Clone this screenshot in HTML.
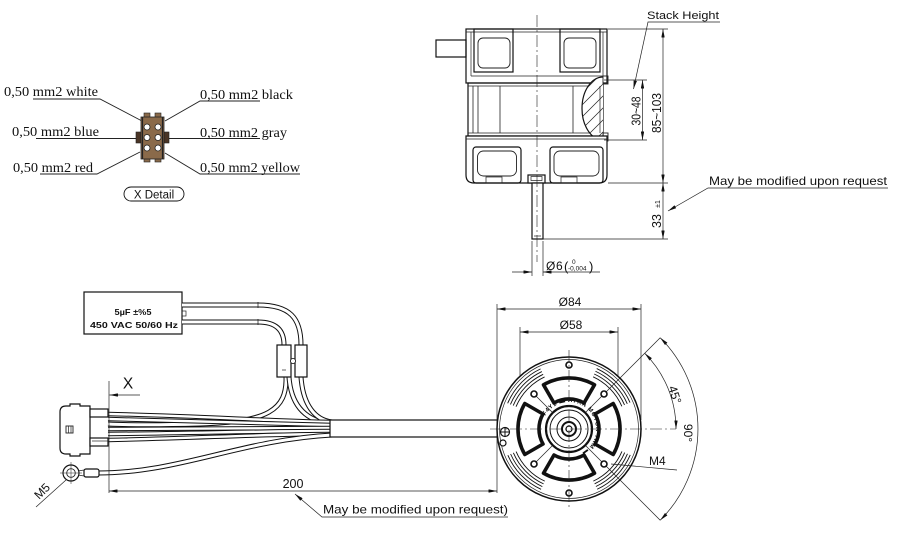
<!DOCTYPE html>
<html><head><meta charset="utf-8"><style>
html,body{margin:0;padding:0;background:#fff;}
svg{display:block;}
.o{fill:none;stroke:#111;stroke-width:1.2;}
.t{fill:none;stroke:#222;stroke-width:0.7;}
.cl{fill:none;stroke:#222;stroke-width:0.6;stroke-dasharray:12 3 2 3;}
.sans{font-family:"Liberation Sans",sans-serif;fill:#111;}
.serif{font-family:"Liberation Serif",serif;fill:#111;}
</style></head><body>
<svg width="900" height="538" viewBox="0 0 900 538" xmlns="http://www.w3.org/2000/svg">
<defs>
<marker id="ar" viewBox="0 0 10 4" refX="10" refY="2" markerWidth="9" markerHeight="3.4" markerUnits="userSpaceOnUse" orient="auto-start-reverse"><path d="M0,0 L10,2 L0,4 z" fill="#111"/></marker>
<clipPath id="bulge"><path d="M603,77 A21,31.5 0 0 0 603,140 Z"/></clipPath>
<path id="hubring" d="M542,429 A27,27 0 1 1 596,429 A27,27 0 1 1 542,429"/>
</defs>

<!-- ============ TOP-LEFT CONNECTOR DETAIL ============ -->
<g class="t" style="stroke-width:0.9">
<polyline points="33,99 100,99 142,121"/>
<polyline points="260,101 200,101 165,121"/>
<polyline points="36,138.5 140,138.5"/>
<polyline points="167,138.5 260,138.5"/>
<polyline points="40,174 97,174 140,152"/>
<polyline points="300,174 200,174 165,153"/>
</g>
<g>
<rect x="136" y="132" width="5" height="11" fill="#4a3526" stroke="#222" stroke-width="0.6"/>
<rect x="164" y="132" width="5" height="11" fill="#4a3526" stroke="#222" stroke-width="0.6"/>
<rect x="144" y="113" width="6" height="5" fill="#8a6a4a" stroke="#222" stroke-width="0.6"/>
<rect x="155" y="113" width="6" height="5" fill="#8a6a4a" stroke="#222" stroke-width="0.6"/>
<rect x="144" y="158" width="6" height="4" fill="#8a6a4a" stroke="#222" stroke-width="0.6"/>
<rect x="155" y="158" width="6" height="4" fill="#8a6a4a" stroke="#222" stroke-width="0.6"/>
<rect x="141" y="117" width="23" height="42" fill="#8a6a4a" stroke="#222" stroke-width="0.8"/>
<line x1="142.5" y1="117" x2="142.5" y2="159" stroke="#222" stroke-width="1.2"/>
<line x1="162.5" y1="117" x2="162.5" y2="159" stroke="#222" stroke-width="1.2"/>
<g fill="#fff" stroke="#222" stroke-width="0.8">
<circle cx="147" cy="127" r="3"/><circle cx="158" cy="127" r="3"/>
<circle cx="147" cy="137.5" r="3"/><circle cx="158" cy="137.5" r="3"/>
<circle cx="147" cy="148" r="3"/><circle cx="158" cy="148" r="3"/>
</g>
</g>
<g class="serif" font-size="14">
<text x="4" y="96" textLength="94" lengthAdjust="spacingAndGlyphs">0,50 mm2 white</text>
<text x="200" y="99" textLength="93" lengthAdjust="spacingAndGlyphs">0,50 mm2 black</text>
<text x="12" y="136" textLength="87" lengthAdjust="spacingAndGlyphs">0,50 mm2 blue</text>
<text x="200" y="137" textLength="87" lengthAdjust="spacingAndGlyphs">0,50 mm2 gray</text>
<text x="13" y="172" textLength="80" lengthAdjust="spacingAndGlyphs">0,50 mm2 red</text>
<text x="200" y="172" textLength="100" lengthAdjust="spacingAndGlyphs">0,50 mm2 yellow</text>
</g>
<rect x="124" y="187" width="60" height="14" rx="7" fill="none" stroke="#111" stroke-width="0.9"/>
<text class="sans" x="154" y="198.5" font-size="11.5" text-anchor="middle">X Detail</text>

<!-- ============ TOP SIDE VIEW ============ -->
<rect x="436" y="40" width="30" height="17" class="o"/>
<!-- top section -->
<rect x="466" y="29" width="141" height="54" class="o"/>
<line x1="466" y1="32" x2="607" y2="32" class="t"/>
<line x1="471" y1="32" x2="471" y2="76" class="t"/>
<line x1="603" y1="32" x2="603" y2="76" class="t"/>
<line x1="471" y1="76" x2="603" y2="76" class="t"/>
<rect x="474" y="29" width="39" height="43" class="o"/>
<rect x="478" y="38" width="32" height="30" rx="5" class="t" style="stroke-width:0.9"/>
<rect x="560" y="29" width="40" height="43" class="o"/>
<rect x="564" y="38" width="32" height="30" rx="5" class="t" style="stroke-width:0.9"/>
<!-- middle section -->
<rect x="468" y="83" width="135" height="53" class="o"/>
<g class="t" style="stroke-width:0.8">
<line x1="468" y1="86" x2="600" y2="86"/>
<line x1="468" y1="133" x2="600" y2="133"/>
<line x1="473" y1="86" x2="473" y2="133"/>
<line x1="478" y1="86" x2="478" y2="133"/>
<line x1="500" y1="86" x2="500" y2="133"/>
<line x1="573" y1="86" x2="573" y2="133"/>
</g>
<path d="M603,77 A21,31.5 0 0 0 603,140" class="o" fill="#fff" style="fill:#fff"/>
<g clip-path="url(#bulge)" class="t">
<line x1="575" y1="100" x2="605" y2="70"/>
<line x1="575" y1="112" x2="605" y2="82"/>
<line x1="575" y1="124" x2="605" y2="94"/>
<line x1="575" y1="136" x2="605" y2="106"/>
<line x1="575" y1="148" x2="605" y2="118"/>
<line x1="575" y1="160" x2="605" y2="130"/>
</g>
<line x1="600" y1="86" x2="600" y2="133" class="t"/>
<rect x="603" y="76" width="5" height="8" class="t" style="stroke-width:0.9"/>
<rect x="603" y="133" width="5" height="8" class="t" style="stroke-width:0.9"/>
<!-- bottom section -->
<path d="M466,136 H607 V175 Q607,183 599,183 H474 Q466,183 466,175 Z" class="o" style="fill:#fff"/>
<line x1="466" y1="139" x2="607" y2="139" class="t"/>
<rect x="473" y="147" width="48" height="36" rx="3" class="o"/>
<rect x="477.5" y="151" width="39" height="25" rx="6" class="t" style="stroke-width:0.9"/>
<rect x="550" y="147" width="53" height="36" rx="3" class="o"/>
<rect x="554" y="151" width="45" height="25" rx="6" class="t" style="stroke-width:0.9"/>
<rect x="486" y="177" width="16" height="6" class="t"/>
<rect x="561" y="177" width="16" height="6" class="t"/>
<rect x="528" y="175" width="17" height="8" class="o" style="fill:#fff"/>
<rect x="531" y="176.5" width="11" height="4" class="t"/>
<!-- shaft -->
<rect x="532" y="183" width="11" height="56" class="o" style="fill:#fff"/>
<line x1="534" y1="236" x2="541" y2="236" class="t"/>
<line x1="537" y1="15" x2="537" y2="262" class="cl"/>

<!-- top view dimensions -->
<g class="t">
<line x1="608" y1="29" x2="668" y2="29"/>
<line x1="608" y1="183" x2="668" y2="183"/>
<line x1="543" y1="239" x2="668" y2="239"/>
<line x1="604" y1="80" x2="647" y2="80"/>
<line x1="604" y1="140" x2="647" y2="140"/>
<line x1="663" y1="29" x2="663" y2="183" marker-start="url(#ar)" marker-end="url(#ar)"/>
<line x1="663" y1="183" x2="663" y2="239" marker-start="url(#ar)" marker-end="url(#ar)"/>
<line x1="642.5" y1="80" x2="642.5" y2="140" marker-start="url(#ar)" marker-end="url(#ar)"/>
<polyline points="720,22 648,22 633.5,89" marker-end="url(#ar)"/>
<polyline points="888,188 708,188 668,211" marker-end="url(#ar)"/>
<line x1="532" y1="241" x2="532" y2="276"/>
<line x1="543" y1="241" x2="543" y2="276"/>
<line x1="512" y1="272" x2="532" y2="272" marker-end="url(#ar)"/>
<line x1="600" y1="272" x2="543" y2="272" marker-end="url(#ar)"/>
</g>
<g class="sans">
<text x="647" y="19" font-size="11" textLength="72" lengthAdjust="spacingAndGlyphs">Stack Height</text>
<text x="709" y="185" font-size="12" textLength="178" lengthAdjust="spacingAndGlyphs">May be modified upon request</text>
<text transform="translate(661,113) rotate(-90)" font-size="12.5" text-anchor="middle" textLength="40" lengthAdjust="spacingAndGlyphs">85~103</text>
<text transform="translate(640.5,111) rotate(-90)" font-size="12.5" text-anchor="middle" textLength="29" lengthAdjust="spacingAndGlyphs">30~48</text>
<text transform="translate(661,221) rotate(-90)" font-size="12.5" text-anchor="middle">33</text>
<text transform="translate(660,204) rotate(-90)" font-size="7" text-anchor="middle">±1</text>
<text x="546" y="270" font-size="12">Ø</text>
<text x="556" y="270" font-size="12">6</text>
<text x="564" y="271" font-size="13">(</text>
<text x="572" y="264" font-size="6.5">0</text>
<text x="568" y="270.5" font-size="6.5">-0,004</text>
<text x="589" y="271" font-size="13">)</text>
</g>

<!-- ============ LOWER-LEFT HARNESS ============ -->
<!-- capacitor -->
<rect x="84" y="292" width="98" height="42" class="o" style="fill:#fff"/>
<rect x="182" y="311" width="4" height="5" class="t"/>
<text x="133" y="315" font-size="8.5" font-weight="bold" text-anchor="middle" class="sans" textLength="37" lengthAdjust="spacingAndGlyphs">5µF ±%5</text>
<text x="134" y="328" font-size="8.5" font-weight="bold" text-anchor="middle" class="sans" textLength="88" lengthAdjust="spacingAndGlyphs">450 VAC 50/60 Hz</text>
<!-- wires from capacitor -->
<g fill="none" stroke-linecap="butt">
<path d="M182,305 H258 C290,305 301,318 301,345" stroke="#111" stroke-width="5"/>
<path d="M182,305 H258 C290,305 301,318 301,345" stroke="#fff" stroke-width="3"/>
<path d="M182,322 H258 C276,322 284,330 284,345" stroke="#111" stroke-width="5"/>
<path d="M182,322 H258 C276,322 284,330 284,345" stroke="#fff" stroke-width="3"/>
<line x1="258" y1="302" x2="258" y2="308" stroke="#111" stroke-width="0.7"/>
<line x1="258" y1="319" x2="258" y2="325" stroke="#111" stroke-width="0.7"/>
<!-- below sleeves -->
<path d="M286,377 C287,410 268,422 200,424 C160,425 130,425 108,424" stroke="#111" stroke-width="5"/>
<path d="M286,377 C287,410 268,422 200,424 C160,425 130,425 108,424" stroke="#fff" stroke-width="3"/>
<path d="M289,377 C291,405 305,421 332,424" stroke="#111" stroke-width="5"/>
<path d="M289,377 C291,405 305,421 332,424" stroke="#fff" stroke-width="3"/>
<path d="M301,377 C303,405 315,420 332,422" stroke="#111" stroke-width="5"/>
<path d="M301,377 C303,405 315,420 332,422" stroke="#fff" stroke-width="3"/>
<!-- bundle -->
<g>
<path d="M108,414 C200,416 270,421 332,422" stroke="#111" stroke-width="4.4"/>
<path d="M108,414 C200,416 270,421 332,422" stroke="#fff" stroke-width="2.4"/>
<path d="M108,419 C200,421 270,424 332,425" stroke="#111" stroke-width="4.4"/>
<path d="M108,419 C200,421 270,424 332,425" stroke="#fff" stroke-width="2.4"/>
<path d="M108,429 C200,429 270,428 332,428" stroke="#111" stroke-width="4.4"/>
<path d="M108,429 C200,429 270,428 332,428" stroke="#fff" stroke-width="2.4"/>
<path d="M108,434 C200,433 270,431 332,431" stroke="#111" stroke-width="4.4"/>
<path d="M108,434 C200,433 270,431 332,431" stroke="#fff" stroke-width="2.4"/>
<path d="M108,440 C200,438 270,434 332,434" stroke="#111" stroke-width="4.4"/>
<path d="M108,440 C200,438 270,434 332,434" stroke="#fff" stroke-width="2.4"/>
</g>
<!-- ground wire -->
<path d="M98,473 C180,473 240,440 332,435" stroke="#111" stroke-width="5"/>
<path d="M98,473 C180,473 240,440 332,435" stroke="#fff" stroke-width="3"/>
</g>
<!-- sleeves -->
<rect x="277" y="345" width="14" height="32" class="o" style="fill:#fff"/>
<rect x="295" y="345" width="12" height="32" class="o" style="fill:#fff"/>
<line x1="282" y1="370" x2="286" y2="370" class="t"/>
<circle cx="293" cy="361" r="2.6" class="t" style="fill:#fff;stroke-width:0.9"/>
<!-- cable jacket -->
<rect x="330" y="420" width="168" height="17" class="o" style="fill:#fff"/>
<!-- connector -->
<path d="M66,406 H70 V404 H80 V406 H90 V454 H80 V456 H70 V454 H66 Q60,454 60,448 V412 Q60,406 66,406 Z" class="o" style="fill:#fff"/>
<rect x="90" y="409" width="18" height="8" class="o" style="fill:#fff"/>
<rect x="90" y="438" width="18" height="8" class="o" style="fill:#fff"/>
<line x1="92" y1="441" x2="108" y2="441" class="t"/>
<rect x="66" y="426" width="7" height="7" class="t" style="stroke-width:0.9"/>
<line x1="68.5" y1="426" x2="68.5" y2="433" class="t"/>
<line x1="71" y1="426" x2="71" y2="433" class="t"/>
<!-- ring terminal -->
<rect x="84" y="469" width="15" height="8" rx="2" class="o" style="fill:#fff"/>
<line x1="78" y1="471" x2="84" y2="470" class="t"/>
<line x1="78" y1="475" x2="84" y2="476" class="t"/>
<circle cx="71" cy="473" r="8" class="o" style="fill:#fff"/>
<circle cx="71" cy="473" r="4.3" class="t" style="stroke-width:0.9"/>
<line x1="60" y1="473" x2="82" y2="473" class="t" style="stroke-width:0.5"/>
<line x1="71" y1="462" x2="71" y2="484" class="t" style="stroke-width:0.5"/>
<line x1="66" y1="480" x2="36" y2="507" class="t"/>
<text class="sans" transform="translate(45,494) rotate(-45)" font-size="12" text-anchor="middle">M5</text>
<!-- X marker -->
<line x1="109" y1="381" x2="109" y2="493" class="t"/>
<line x1="140" y1="395" x2="109.5" y2="395" class="t" marker-end="url(#ar)"/>
<text class="sans" x="128" y="388.5" font-size="15.5" text-anchor="middle">X</text>
<!-- 200 dimension -->
<line x1="109" y1="491" x2="497" y2="491" class="t" marker-start="url(#ar)" marker-end="url(#ar)"/>
<text class="sans" x="293" y="488" font-size="12.5" text-anchor="middle">200</text>
<polyline points="508,517 322,517 295,494" class="t" marker-end="url(#ar)"/>
<text class="sans" x="323" y="513.5" font-size="12" textLength="185" lengthAdjust="spacingAndGlyphs">May be modified upon request)</text>

<!-- ============ FRONT VIEW ============ -->
<g class="t">
<line x1="497" y1="304" x2="497" y2="493"/>
<line x1="641" y1="304" x2="641" y2="420"/>
<line x1="497" y1="309" x2="641" y2="309" marker-start="url(#ar)" marker-end="url(#ar)"/>
<line x1="520" y1="327" x2="520" y2="382"/>
<line x1="618" y1="327" x2="618" y2="382"/>
<line x1="520" y1="332" x2="618" y2="332" marker-start="url(#ar)" marker-end="url(#ar)"/>
</g>
<text class="sans" x="570" y="306" font-size="12" text-anchor="middle">Ø84</text>
<text class="sans" x="571" y="329" font-size="12" text-anchor="middle">Ø58</text>

<circle cx="569" cy="429" r="72" fill="#fff" stroke="#111" stroke-width="1.5"/>
<circle cx="569" cy="429" r="69.5" class="t"/>
<!-- slot arc groups -->
<g fill="none" stroke="#111" stroke-width="0.9">
<circle cx="569" cy="429" r="57.5" pathLength="360" stroke-dasharray="0 23 42 50 42 46 42 50 42 23"/>
<circle cx="569" cy="429" r="60.5" pathLength="360" stroke-dasharray="0 23 42 50 42 46 42 50 42 23"/>
<circle cx="569" cy="429" r="63.5" pathLength="360" stroke-dasharray="0 23 42 50 42 46 42 50 42 23"/>
<circle cx="569" cy="429" r="66.5" pathLength="360" stroke-dasharray="0 23 42 50 42 46 42 50 42 23"/>
</g>
<!-- diagonal thin lines -->
<g class="t">
<line x1="534" y1="394" x2="604" y2="464"/>
<line x1="604" y1="394" x2="534" y2="464"/>
<line x1="604" y1="394" x2="660.2" y2="337.8"/>
<line x1="604" y1="464" x2="660.2" y2="520.2"/>
<line x1="611" y1="464" x2="677" y2="470"/>
</g>
<!-- windows -->
<g fill="none" stroke="#111" stroke-width="3.6" stroke-linejoin="round">
<path d="M543.5,384.8 A51,51 0 0 1 594.5,384.8 L584,403 A30,30 0 0 0 554,403 Z"/>
<path d="M613.2,403.5 A51,51 0 0 1 613.2,454.5 L595,444 A30,30 0 0 0 595,414 Z"/>
<path d="M594.5,473.2 A51,51 0 0 1 543.5,473.2 L554,455 A30,30 0 0 0 584,455 Z"/>
<path d="M524.8,454.5 A51,51 0 0 1 524.8,403.5 L543,414 A30,30 0 0 0 543,444 Z"/>
</g>
<!-- holes -->
<g fill="#fff" stroke="#111" stroke-width="1.6">
<circle cx="569" cy="365" r="3"/><circle cx="569" cy="493" r="3"/>
<circle cx="534" cy="394" r="3"/><circle cx="604" cy="394" r="3"/>
<circle cx="534" cy="464" r="3"/><circle cx="604" cy="464" r="3"/>
</g>
<!-- hub -->
<circle cx="569" cy="429" r="23" fill="#fff" stroke="#111" stroke-width="2.2"/>
<text font-family="Liberation Sans,sans-serif" font-size="6" font-weight="bold" fill="#111" letter-spacing="0.6"><textPath href="#hubring" startOffset="8%">F4Y1 ▬ AYKA MOTOR TRM ▬</textPath></text>
<circle cx="569" cy="429" r="19" fill="none" stroke="#111" stroke-width="1"/>
<circle cx="569" cy="429" r="12" fill="none" stroke="#111" stroke-width="1"/>
<circle cx="569" cy="429" r="7" fill="none" stroke="#111" stroke-width="2"/>
<circle cx="569" cy="429" r="3" fill="#fff" stroke="#111" stroke-width="1.2"/>
<!-- screws at left -->
<circle cx="505" cy="432" r="4.5" fill="#fff" stroke="#111" stroke-width="1.2"/>
<line x1="501" y1="432" x2="509" y2="432" stroke="#111" stroke-width="1"/>
<line x1="505" y1="428" x2="505" y2="436" stroke="#111" stroke-width="1"/>
<circle cx="503" cy="443" r="3" fill="#fff" stroke="#111" stroke-width="1.2"/>
<!-- center lines -->
<line x1="490" y1="429" x2="676" y2="429" class="cl"/>
<line x1="569" y1="350" x2="569" y2="510" class="cl"/>
<!-- angle dims -->
<g class="t">
<path d="M644.7,353.3 A107,107 0 0 1 676,429" marker-start="url(#ar)" marker-end="url(#ar)"/>
<path d="M660.2,337.8 A129,129 0 0 1 660.2,520.2" marker-start="url(#ar)" marker-end="url(#ar)"/>
</g>
<text class="sans" transform="translate(671,396) rotate(72)" font-size="12" text-anchor="middle">45°</text>
<text class="sans" transform="translate(684,433) rotate(90)" font-size="12" text-anchor="middle">90°</text>
<text class="sans" x="649" y="465" font-size="12">M4</text>
</svg>
</body></html>
